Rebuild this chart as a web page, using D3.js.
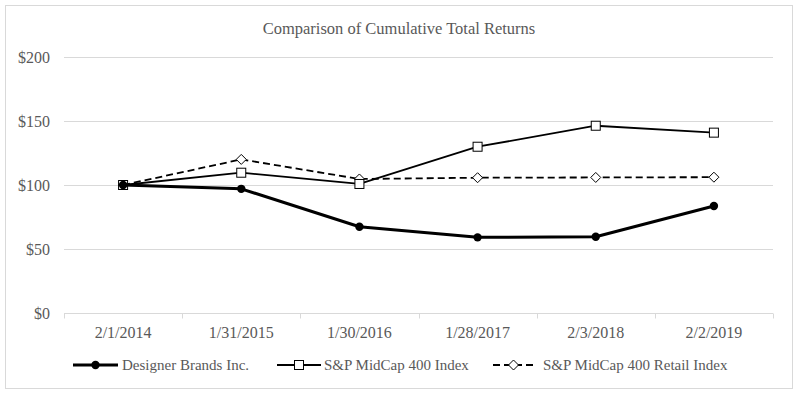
<!DOCTYPE html>
<html>
<head>
<meta charset="utf-8">
<script src="https://cdn.jsdelivr.net/npm/d3@7"></script>
<style>
  body { margin: 0; background: #fff; }
</style>
</head>
<body>
<div id="chart"></div>
<script>
"use strict";

// chart data
const dates = ["2/1/2014", "1/31/2015", "1/30/2016", "1/28/2017", "2/3/2018", "2/2/2019"];
const designerBrands = [100, 97, 67.4, 59.1, 59.6, 83.6];
const midCap400 = [100, 109.6, 100.8, 129.9, 146.3, 140.9];
const midCap400Retail = [100, 120, 104.7, 105.7, 105.9, 106.1];
const yTicks = [0, 50, 100, 150, 200];

const seriesList = [
  { name: "Designer Brands Inc.", values: designerBrands, width: 3, dash: null, marker: "circle" },
  { name: "S&P MidCap 400 Index", values: midCap400, width: 1.8, dash: null, marker: "square" },
  { name: "S&P MidCap 400 Retail Index", values: midCap400Retail, width: 1.8, dash: "7,4", marker: "diamond" }
];

const W = 799, H = 396;
const margin = { top: 57, right: 26, bottom: 83, left: 64 };
const FONT = "'Liberation Serif', 'Times New Roman', 'DejaVu Serif', serif";
const textColor = "#595959";

const svg = d3.select("#chart").append("svg")
  .attr("width", W)
  .attr("height", H)
  .attr("font-family", FONT);

// outer frame
svg.append("rect")
  .attr("x", 5.5).attr("y", 5.5)
  .attr("width", 787).attr("height", 383)
  .attr("fill", "#fff")
  .attr("stroke", "#d9d9d9");

svg.append("text")
  .attr("x", 399).attr("y", 34)
  .attr("text-anchor", "middle")
  .attr("fill", textColor)
  .style("font-size", "16.5px")
  .text("Comparison of Cumulative Total Returns");

const x = d3.scalePoint()
  .domain(dates)
  .range([margin.left, W - margin.right])
  .padding(0.5);

const y = d3.scaleLinear()
  .domain([0, 200])
  .range([H - margin.bottom, margin.top]);

// gridlines
svg.append("g")
  .selectAll("line")
  .data(yTicks.filter(d => d > 0))
  .join("line")
  .attr("x1", margin.left).attr("x2", W - margin.right)
  .attr("y1", d => Math.round(y(d)) + 0.5).attr("y2", d => Math.round(y(d)) + 0.5)
  .attr("stroke", "#d9d9d9");

// y labels
svg.append("g")
  .selectAll("text")
  .data(yTicks)
  .join("text")
  .attr("x", 50)
  .attr("y", d => y(d) + 6)
  .attr("text-anchor", "end")
  .attr("fill", textColor)
  .style("font-size", "16px")
  .text(d => "$" + d);

// x axis with ticks at category boundaries
const step = x.step();
const xAxis = svg.append("g")
  .attr("transform", "translate(0," + (Math.round(y(0)) + 0.5) + ")");
xAxis.append("line")
  .attr("x1", margin.left).attr("x2", W - margin.right)
  .attr("stroke", "#d9d9d9");
xAxis.selectAll(".tk")
  .data(d3.range(dates.length + 1))
  .join("line")
  .attr("class", "tk")
  .attr("x1", i => Math.round(margin.left + i * step) + 0.5)
  .attr("x2", i => Math.round(margin.left + i * step) + 0.5)
  .attr("y1", 0).attr("y2", 5)
  .attr("stroke", "#d9d9d9");
xAxis.selectAll("text")
  .data(dates)
  .join("text")
  .attr("x", d => x(d))
  .attr("y", 24)
  .attr("text-anchor", "middle")
  .attr("fill", textColor)
  .style("font-size", "16px")
  .text(d => d);

const line = d3.line()
  .x((d, i) => x(dates[i]))
  .y(d => y(d));

function drawMarker(g, type, cx, cy) {
  if (type === "circle") {
    g.append("circle").attr("cx", cx).attr("cy", cy).attr("r", 4.2).attr("fill", "#000");
  } else if (type === "square") {
    g.append("rect").attr("x", cx - 4.5).attr("y", cy - 4.5).attr("width", 9).attr("height", 9)
      .attr("fill", "#fff").attr("stroke", "#000").attr("stroke-width", 1);
  } else {
    g.append("path")
      .attr("d", "M" + cx + "," + (cy - 5) + "L" + (cx + 5) + "," + cy + "L" + cx + "," + (cy + 5) + "L" + (cx - 5) + "," + cy + "Z")
      .attr("fill", "#fff").attr("stroke", "#000").attr("stroke-width", 1);
  }
}

// draw in reverse so Designer Brands sits on top
seriesList.slice().reverse().forEach(s => {
  const g = svg.append("g");
  g.append("path")
    .attr("d", line(s.values))
    .attr("fill", "none")
    .attr("stroke", "#000")
    .attr("stroke-width", s.width)
    .attr("stroke-dasharray", s.dash)
    .attr("stroke-linejoin", "round");
  s.values.forEach((v, i) => drawMarker(g, s.marker, x(dates[i]), y(v)));
});

// legend
const legendLine = [[73, 118], [277, 321], [493, 534]];
const legendText = [122, 324, 543];
const legendY = 365;
seriesList.forEach((s, i) => {
  const g = svg.append("g");
  const [x0, x1] = legendLine[i];
  g.append("line")
    .attr("x1", x0).attr("x2", x1)
    .attr("y1", legendY).attr("y2", legendY)
    .attr("stroke", "#000")
    .attr("stroke-width", s.width)
    .attr("stroke-dasharray", s.dash);
  drawMarker(g, s.marker, (x0 + x1) / 2, legendY);
  g.append("text")
    .attr("x", legendText[i])
    .attr("y", legendY + 5)
    .attr("fill", textColor)
    .style("font-size", "15px")
    .text(s.name);
});
</script>
</body>
</html>
